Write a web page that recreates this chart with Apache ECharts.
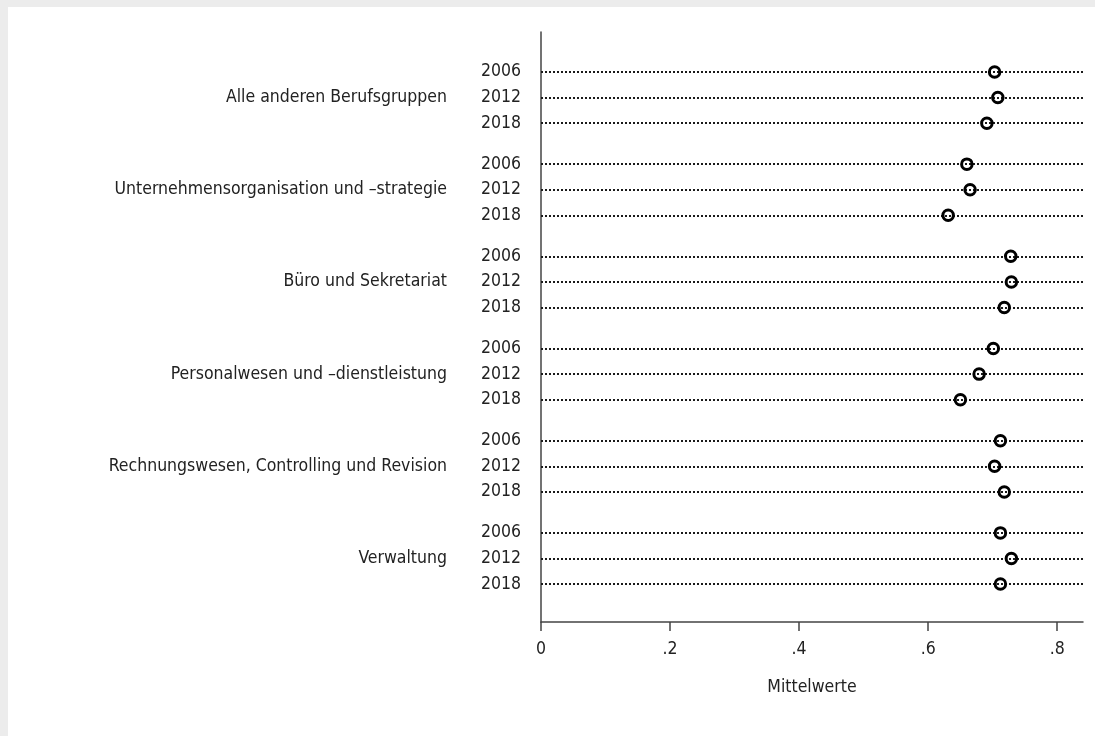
<!DOCTYPE html>
<html>
<head>
<meta charset="utf-8">
<script src="https://cdn.jsdelivr.net/npm/echarts@6/dist/echarts.min.js"></script>
<style>
  html, body { margin: 0; padding: 0; background: #ececec; width: 1095px; height: 736px; overflow: hidden; }
  #chart { position: absolute; left: 8px; top: 7px; width: 1087px; height: 729px; background: #ffffff; }
</style>
</head>
<body>
<div id="chart"></div>
<script>
const groups = [
  'Alle anderen Berufsgruppen',
  'Unternehmensorganisation und –strategie',
  'Büro und Sekretariat',
  'Personalwesen und –dienstleistung',
  'Rechnungswesen, Controlling und Revision',
  'Verwaltung'
];
const years = ['2006', '2012', '2018'];
const v2006 = [0.703, 0.660, 0.728, 0.701, 0.712, 0.712];
const v2012 = [0.708, 0.665, 0.729, 0.679, 0.703, 0.729];
const v2018 = [0.691, 0.631, 0.718, 0.650, 0.718, 0.712];
const xTicks = [0, 0.2, 0.4, 0.6, 0.8];
const xTickLabels = ['0', '.2', '.4', '.6', '.8'];
const xTitle = 'Mittelwerte';

const GROUP_STEP = 3.6;
const FONT = '"Liberation Sans Narrow", "DejaVu Sans Condensed", "Noto Sans", sans-serif';
const FS = 17.5;
const TXT = '#222';
const valuesByYear = [v2006, v2012, v2018];

const dotData = [], yearData = [], groupData = [], lineData = [];
groups.forEach((g, gi) => {
  years.forEach((y, yi) => {
    const pos = gi * GROUP_STEP + yi;
    dotData.push([valuesByYear[yi][gi], pos]);
    yearData.push({ value: [0, pos], label: { formatter: y } });
    lineData.push({ yAxis: pos });
  });
  groupData.push({ value: [0, gi * GROUP_STEP + 1], label: { formatter: g } });
});

const chart = echarts.init(document.getElementById('chart'), null, { renderer: 'canvas' });
chart.setOption({
  animation: false,
  textStyle: { fontFamily: FONT },
  grid: { left: 533, right: 12, top: 25, bottom: 114 },
  xAxis: {
    type: 'value', min: 0, max: 0.84, interval: 0.2,
    axisLine: { show: true, onZero: false, lineStyle: { color: '#444', width: 1.5 } },
    axisTick: { show: true, length: 9, lineStyle: { color: '#444', width: 1.5 } },
    splitLine: { show: false },
    axisLabel: {
      showMaxLabel: false, margin: 18, color: TXT, fontSize: FS, fontFamily: FONT,
      formatter: v => { const i = xTicks.findIndex(t => Math.abs(t - v) < 1e-6); return i >= 0 ? xTickLabels[i] : ''; }
    },
    name: xTitle, nameLocation: 'middle', nameGap: 56,
    nameTextStyle: { color: TXT, fontSize: FS, fontFamily: FONT }
  },
  yAxis: {
    type: 'value', inverse: true, min: -1.56, max: 21.48,
    axisLine: { show: true, onZero: false, lineStyle: { color: '#444', width: 1.5 } },
    axisTick: { show: false }, axisLabel: { show: false }, splitLine: { show: false }
  },
  series: [
    {
      type: 'scatter', silent: true, z: 1, data: [], symbolSize: 0,
      itemStyle: { opacity: 1 },
      markLine: {
        silent: true, symbol: 'none', animation: false,
        label: { show: false },
        lineStyle: { type: [2, 2], color: '#1a1a1a', width: 2, opacity: 1 },
        data: lineData
      }
    },
    {
      type: 'scatter', z: 5, clip: false, data: dotData,
      symbol: 'circle', symbolSize: 10.5,
      itemStyle: { color: 'rgba(255,255,255,0)', borderColor: '#000', borderWidth: 3, opacity: 1 }
    },
    {
      type: 'scatter', z: 4, clip: false, data: yearData, symbolSize: 0, silent: true,
      itemStyle: { opacity: 1 },
      label: { show: true, position: 'left', distance: 20, color: TXT, fontSize: FS, fontFamily: FONT }
    },
    {
      type: 'scatter', z: 4, clip: false, data: groupData, symbolSize: 0, silent: true,
      itemStyle: { opacity: 1 },
      label: { show: true, position: 'left', distance: 94, color: TXT, fontSize: FS, fontFamily: FONT }
    }
  ]
});
</script>
</body>
</html>
